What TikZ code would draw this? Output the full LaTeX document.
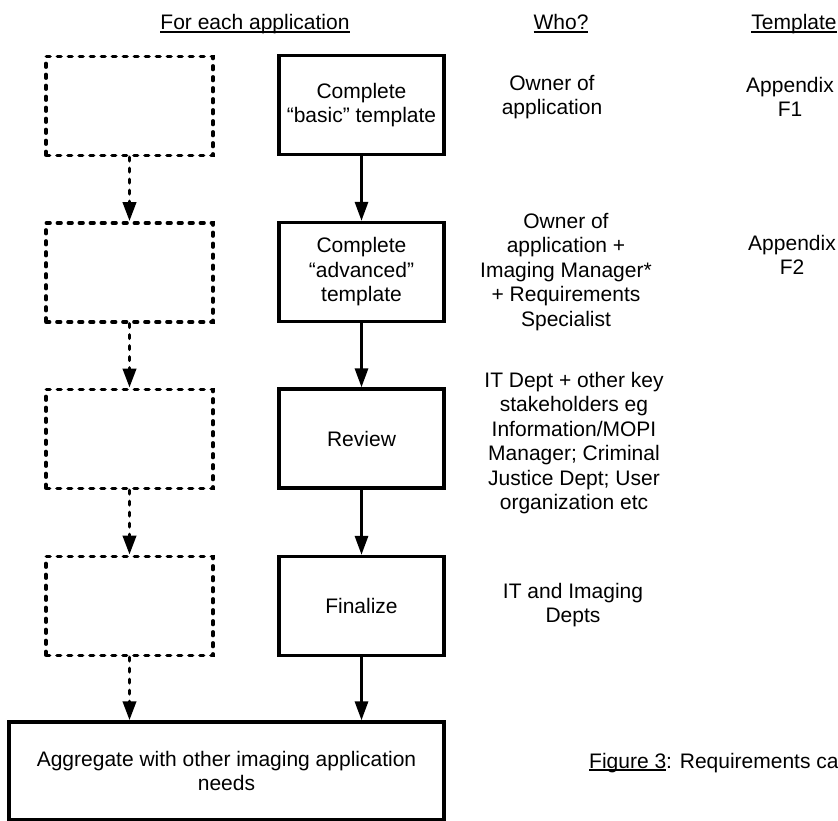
\documentclass[tikz,border=0pt]{standalone}
\usepackage{fontspec}
\setmainfont{Liberation Sans}
\usetikzlibrary{arrows.meta}
\newcommand\myul[1]{\setbox0\hbox{#1}\rlap{\rule[-2.6pt]{\wd0}{1.3pt}}\box0}
\begin{document}
\begin{tikzpicture}[x=1pt,y=-1pt,
  txt/.style={align=center, inner sep=0pt, font=\fontsize{21}{24.5}\selectfont},
  solidbox/.style={txt, draw, line width=3.3pt, minimum width=165pt, minimum height=99pt},
  dashbox/.style={draw, line width=3.6pt, dash pattern=on 3.6pt off 7.4pt, line cap=round, minimum width=167pt, minimum height=99pt, inner sep=0pt},
  arr/.style={line width=3pt, -{Triangle[width=13pt,length=19pt]}},
  darr/.style={arr, line width=3.6pt, dash pattern=on 3.6pt off 7.4pt, line cap=round}
]
\useasboundingbox (0,0) rectangle (838,821);
\fill[white] (0,0) rectangle (838,821);

% headers
\node[txt, anchor=base] (h1) at (255,30) {\myul{For each application}};
\node[txt, anchor=base] (h2) at (561,30) {\myul{Who?}};
\node[txt, anchor=base] (h3) at (794,30) {\myul{Template}};

% solid boxes
\node[solidbox] (b1) at (361.5,105) {Complete\\“basic” template};
\node[solidbox] (b2) at (361.5,272) {Complete\\“advanced”\\template};
\node[solidbox] (b3) at (361.5,438.5) {Review};
\node[solidbox] (b4) at (361.5,606) {Finalize};

% dashed boxes
\node[dashbox] (d1) at (129.5,106) {};
\node[dashbox] (d2) at (129.5,272.5) {};
\node[dashbox] (d3) at (129.5,439) {};
\node[dashbox] (d4) at (129.5,606) {};

% aggregate box
\node[txt, draw, line width=3.3pt, minimum width=435pt, minimum height=98pt] (agg) at (226.5,771)
  {Aggregate with other imaging application\\needs};

% connectors
\draw[arr] (b1.south) -- (b2.north);
\draw[arr] (b2.south) -- (b3.north);
\draw[arr] (b3.south) -- (b4.north);
\draw[arr] (b4.south) -- (b4.south |- agg.north);
\draw[darr] (d1.south) -- (d2.north);
\draw[darr] (d2.south) -- (d3.north);
\draw[darr] (d3.south) -- (d4.north);
\draw[darr] (d4.south) -- (d4.south |- agg.north);

% who column
\node[txt] (w1) at (552,97) {Owner of\\application};
\node[txt] (w2) at (566,272) {Owner of\\application +\\Imaging Manager*\\+ Requirements\\Specialist};
\node[txt] (w3) at (574,443) {IT Dept + other key\\stakeholders eg\\Information/MOPI\\Manager; Criminal\\Justice Dept; User\\organization etc};
\node[txt] (w4) at (573,605) {IT and Imaging\\Depts};

% template column
\node[txt] (t1) at (790,97) {Appendix\\F1};
\node[txt] (t2) at (792,255) {Appendix\\F2};

% caption
\node[txt, anchor=base west] (cap) at (589,768) {\myul{Figure 3}: Requirements ca};
\end{tikzpicture}
\end{document}
